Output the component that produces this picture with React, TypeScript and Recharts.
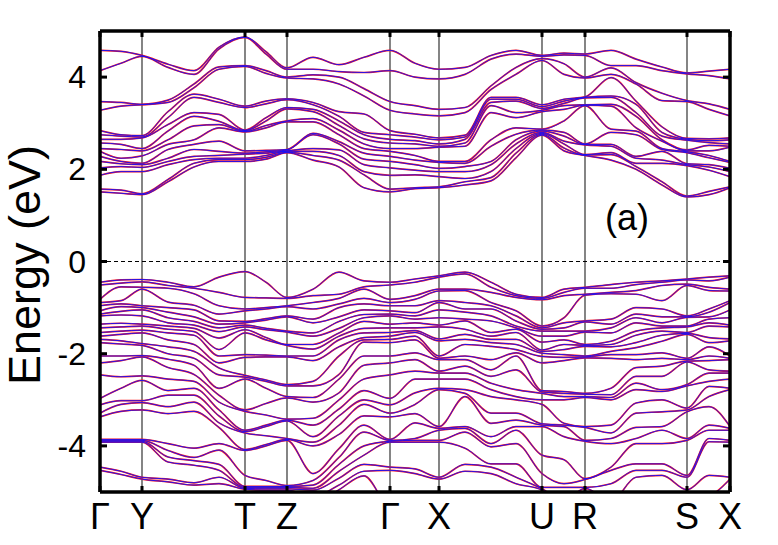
import { LineChart, Line, XAxis, YAxis, ReferenceLine, ReferenceDot } from 'recharts'

// distance along the k-path (plot px from the first Γ), sampled at the
// symmetry points plus a few points inside each segment
const kPath = [0, 21, 42, 68, 94, 119, 145, 166, 187, 213, 239, 264, 290, 315, 339, 365, 391, 416, 442, 464, 485, 511, 536, 562, 587, 609, 630]
const symPoints = [0, 42, 145, 187, 290, 339, 442, 485, 587, 630]
const symLabels = ['Γ', 'Y', 'T', 'Z', 'Γ', 'X', 'U', 'R', 'S', 'X']
const energyTicks = [-4, -2, 0, 2, 4]

// conduction band energies (eV) read at each k sample
const cbG = [1.51, 1.57, 1.87, 2.03, 2.17, 2.28, 2.39, 2.45, 2.57, 2.65, 2.75, 2.84, 3.28, 3.47, 4.14, 4.58]
const cbGY = [1.48, 1.55, 1.95, 2.06, 2.12, 2.17, 2.24, 2.43, 2.54, 2.65, 2.72, 2.75, 3.37, 3.45, 4.30, 4.56]
const cbY = [1.45, 1.47, 1.95, 2.04, 2.10, 2.13, 2.29, 2.40, 2.45, 2.68, 2.70, 2.73, 3.40, 3.41, 4.45, 4.47]
const cbYT1 = [1.73, 1.78, 2.10, 2.17, 2.24, 2.43, 2.54, 2.64, 2.83, 2.97, 3.12, 3.25, 3.45, 3.50, 4.21, 4.28]
const cbYT2 = [2.05, 2.13, 2.21, 2.28, 2.43, 2.54, 2.64, 2.94, 3.15, 3.23, 3.56, 3.63, 3.77, 3.85, 4.06, 4.14]
const cbYT3 = [2.17, 2.21, 2.24, 2.30, 2.39, 2.61, 2.90, 2.97, 3.04, 3.19, 3.45, 3.52, 4.17, 4.22, 4.61, 4.65]
const cbT = [2.17, 2.21, 2.24, 2.33, 2.35, 2.40, 2.81, 2.82, 2.84, 2.85, 3.34, 3.37, 4.23, 4.25, 4.86, 4.87]
const cbTZ = [2.22, 2.26, 2.30, 2.35, 2.38, 2.41, 2.90, 2.95, 3.05, 3.12, 3.42, 3.48, 4.08, 4.14, 4.50, 4.55]
const cbZ = [2.36, 2.37, 2.39, 2.40, 2.42, 2.43, 3.03, 3.05, 3.31, 3.34, 3.51, 3.53, 3.98, 4.00, 4.17, 4.20]
const cbZG1 = [2.20, 2.30, 2.39, 2.45, 2.75, 2.78, 3.03, 3.10, 3.25, 3.30, 3.40, 3.45, 3.96, 4.05, 4.17, 4.43]
const cbZG2 = [2.05, 2.20, 2.30, 2.42, 2.55, 2.60, 2.75, 2.85, 2.95, 3.05, 3.15, 3.25, 3.85, 4.00, 4.12, 4.27]
const cbZG3 = [1.60, 1.88, 1.95, 2.10, 2.22, 2.35, 2.45, 2.55, 2.66, 2.75, 2.80, 3.20, 3.59, 3.75, 4.10, 4.43]
const cbGX = [1.58, 1.60, 1.88, 1.98, 2.10, 2.20, 2.30, 2.45, 2.55, 2.62, 2.70, 2.76, 3.20, 3.38, 4.00, 4.30]
const cbX = [1.60, 1.62, 1.84, 1.95, 2.02, 2.15, 2.17, 2.48, 2.50, 2.55, 2.64, 2.68, 3.16, 3.30, 3.96, 4.17]
const cbXU1 = [1.66, 1.73, 1.80, 1.95, 2.06, 2.13, 2.17, 2.50, 2.57, 2.65, 2.70, 2.74, 3.23, 3.34, 4.06, 4.21]
const cbXU2 = [1.75, 1.82, 1.95, 2.10, 2.17, 2.50, 2.64, 3.23, 3.38, 3.45, 3.52, 3.56, 3.73, 3.81, 4.39, 4.47]
const cbXU3 = [2.25, 2.35, 2.45, 2.55, 2.64, 2.76, 2.90, 3.12, 3.23, 3.48, 3.52, 3.56, 4.06, 4.21, 4.50, 4.58]
const cbU = [2.74, 2.76, 2.78, 2.80, 2.83, 2.85, 2.87, 3.25, 3.28, 3.32, 3.36, 3.40, 4.36, 4.40, 4.45, 4.47]
const cbUR = [2.40, 2.46, 2.55, 2.61, 2.72, 2.80, 3.05, 3.30, 3.38, 3.43, 3.48, 3.52, 4.06, 4.29, 4.48, 4.52]
const cbR = [2.30, 2.31, 2.32, 2.53, 2.54, 2.55, 3.38, 3.39, 3.40, 3.55, 3.56, 3.57, 3.98, 4.00, 4.47, 4.50]
const cbRS1 = [2.20, 2.32, 2.36, 2.50, 2.54, 2.80, 2.87, 3.37, 3.41, 3.56, 3.59, 3.99, 4.06, 4.20, 4.25, 4.58]
const cbRS2 = [2.00, 2.06, 2.13, 2.24, 2.28, 2.75, 2.83, 2.90, 3.15, 3.23, 3.41, 3.48, 3.85, 3.88, 4.25, 4.39]
const cbRS3 = [1.66, 1.73, 2.13, 2.20, 2.39, 2.43, 2.45, 2.61, 2.64, 2.72, 2.80, 2.92, 3.49, 3.65, 4.14, 4.22]
const cbS = [1.40, 1.42, 2.08, 2.10, 2.12, 2.36, 2.38, 2.40, 2.42, 2.63, 2.65, 2.67, 3.47, 3.49, 4.07, 4.09]
const cbSX = [1.45, 1.52, 1.98, 2.05, 2.10, 2.25, 2.30, 2.40, 2.52, 2.58, 2.62, 2.66, 3.30, 3.42, 4.03, 4.13]

// valence band energies (eV) at the same k samples (values below -5 run off the frame)
const vbG = [-0.45, -0.51, -0.82, -0.89, -0.96, -1.07, -1.14, -1.18, -1.36, -1.44, -1.54, -1.62, -1.69, -1.76, -2.05, -2.20, -2.46, -2.97, -3.11, -3.29, -3.37, -3.86, -3.88, -3.90, -3.92, -4.46, -4.53, -5.3, -5.6, -5.9]
const vbGY = [-0.40, -0.47, -0.55, -0.85, -0.92, -0.98, -1.08, -1.16, -1.34, -1.42, -1.51, -1.58, -1.72, -1.79, -2.05, -2.15, -2.50, -2.75, -3.02, -3.10, -3.25, -3.86, -3.88, -3.90, -3.92, -4.55, -4.62, -5.3, -5.6, -5.9]
const vbY = [-0.39, -0.44, -0.56, -0.60, -0.96, -1.00, -1.05, -1.18, -1.36, -1.40, -1.49, -1.55, -1.78, -1.82, -2.04, -2.07, -2.48, -2.58, -3.02, -3.06, -3.22, -3.86, -3.88, -3.90, -3.92, -4.68, -4.72, -5.3, -5.6, -5.9]
const vbYT1 = [-0.45, -0.52, -0.58, -0.88, -1.00, -1.10, -1.22, -1.33, -1.40, -1.47, -1.55, -1.70, -1.85, -2.00, -2.12, -2.30, -2.55, -2.80, -2.90, -3.15, -3.30, -3.95, -4.10, -4.24, -4.35, -4.72, -4.78, -5.3, -5.6, -5.9]
const vbYT2 = [-0.55, -0.58, -0.70, -0.95, -1.05, -1.20, -1.30, -1.38, -1.45, -1.52, -1.60, -1.80, -1.95, -2.10, -2.25, -2.45, -2.60, -2.75, -2.90, -3.05, -3.25, -4.05, -4.25, -4.32, -4.42, -4.80, -4.85, -5.3, -5.6, -5.9]
const vbYT3 = [-0.34, -0.67, -0.96, -1.14, -1.29, -1.36, -1.44, -1.52, -1.66, -1.91, -2.05, -2.20, -2.31, -2.46, -2.75, -2.90, -3.05, -3.22, -3.35, -3.50, -3.60, -3.95, -4.09, -4.40, -4.53, -4.68, -4.82, -5.3, -5.6, -5.9]
const vbT = [-0.22, -0.78, -1.03, -1.07, -1.30, -1.33, -1.38, -1.42, -1.48, -1.55, -2.02, -2.08, -2.47, -2.51, -2.55, -3.22, -3.25, -3.66, -3.69, -3.72, -4.08, -4.10, -4.64, -4.88, -4.90, -4.92, -4.94, -5.3, -5.6, -5.9]
const vbTZ = [-0.45, -0.79, -1.00, -1.03, -1.24, -1.27, -1.45, -1.48, -1.65, -1.70, -2.03, -2.07, -2.57, -2.60, -2.75, -3.08, -3.33, -3.55, -3.58, -3.78, -3.97, -4.00, -4.75, -4.88, -4.90, -4.93, -4.96, -5.3, -5.6, -5.9]
const vbZ = [-0.78, -0.80, -0.96, -0.98, -1.18, -1.20, -1.51, -1.53, -1.80, -1.82, -2.05, -2.07, -2.67, -2.70, -2.93, -2.96, -3.42, -3.44, -3.46, -3.84, -3.86, -3.88, -4.86, -4.88, -4.90, -4.93, -4.96, -5.3, -5.6, -5.9]
const vbZG1 = [-0.60, -0.74, -0.89, -1.03, -1.25, -1.33, -1.55, -1.62, -1.80, -1.90, -2.05, -2.15, -2.60, -2.70, -2.95, -3.05, -3.40, -3.55, -3.80, -3.92, -4.00, -4.60, -4.75, -4.85, -4.92, -4.96, -5.1, -5.3, -5.6, -5.9]
const vbZG2 = [-0.23, -0.71, -0.80, -0.92, -1.00, -1.20, -1.30, -1.45, -1.55, -1.62, -1.70, -1.85, -2.05, -2.45, -2.55, -2.85, -3.00, -3.20, -3.35, -3.55, -3.75, -4.06, -4.25, -4.40, -4.55, -4.70, -4.85, -4.95, -5.1, -5.3]
const vbZG3 = [-0.42, -0.55, -0.60, -0.80, -0.92, -1.05, -1.15, -1.22, -1.30, -1.45, -1.55, -1.65, -1.70, -1.75, -2.05, -2.25, -2.55, -2.80, -3.00, -3.10, -3.35, -3.55, -3.70, -4.00, -4.20, -4.40, -4.55, -4.65, -5.1, -5.3]
const vbGX = [-0.38, -0.45, -0.74, -0.82, -0.96, -1.11, -1.18, -1.25, -1.33, -1.44, -1.50, -1.54, -1.62, -1.70, -1.98, -2.13, -2.38, -2.55, -2.85, -3.10, -3.30, -3.50, -3.84, -3.88, -3.92, -4.50, -4.60, -5.3, -5.6, -5.9]
const vbX = [-0.31, -0.34, -0.60, -0.64, -0.85, -0.89, -1.05, -1.22, -1.38, -1.42, -1.68, -1.72, -2.05, -2.10, -2.13, -2.38, -2.42, -2.55, -2.75, -2.78, -3.58, -3.62, -3.66, -3.88, -3.92, -4.68, -4.72, -5.3, -5.6, -5.9]
const vbXU1 = [-0.23, -0.27, -0.60, -0.63, -0.89, -1.03, -1.10, -1.25, -1.29, -1.47, -1.58, -1.69, -1.80, -2.05, -2.13, -2.27, -2.42, -2.55, -2.78, -2.86, -2.93, -3.58, -3.62, -3.70, -4.05, -4.40, -4.55, -5.3, -5.6, -5.9]
const vbXU2 = [-0.45, -0.56, -0.67, -0.89, -0.96, -1.03, -1.18, -1.29, -1.54, -1.62, -1.69, -1.76, -1.84, -2.13, -2.35, -2.49, -2.64, -2.78, -2.93, -3.29, -3.51, -3.80, -3.95, -4.02, -4.39, -4.46, -4.60, -5.3, -5.6, -5.9]
const vbXU3 = [-0.71, -0.74, -0.78, -1.07, -1.18, -1.29, -1.40, -1.44, -1.47, -1.54, -1.69, -1.80, -1.91, -1.98, -2.05, -2.35, -2.78, -2.93, -3.00, -3.29, -3.44, -3.58, -3.66, -3.95, -4.39, -4.68, -4.82, -5.3, -5.6, -5.9]
const vbU = [-0.78, -0.80, -0.83, -1.40, -1.44, -1.47, -1.51, -1.62, -1.75, -1.92, -1.95, -1.99, -2.06, -2.20, -2.80, -2.83, -2.86, -3.00, -3.10, -3.52, -3.55, -3.58, -4.20, -4.60, -4.90, -4.93, -4.96, -5.3, -5.6, -5.9]
const vbUR = [-0.60, -0.67, -0.74, -1.22, -1.33, -1.44, -1.51, -1.62, -1.70, -1.80, -1.91, -2.02, -2.08, -2.15, -2.82, -2.86, -2.93, -3.00, -3.51, -3.55, -3.58, -3.80, -4.30, -4.82, -4.90, -5.2, -5.4, -5.6, -5.9, -6.2]
const vbR = [-0.56, -0.58, -0.71, -0.73, -1.29, -1.31, -1.51, -1.53, -1.80, -1.82, -1.84, -2.05, -2.07, -2.09, -2.86, -2.88, -2.93, -2.95, -3.58, -3.60, -3.88, -3.90, -4.71, -4.73, -4.90, -4.92, -5.3, -5.6, -5.9, -6.2]
const vbRS1 = [-0.50, -0.58, -0.67, -0.70, -1.25, -1.36, -1.44, -1.55, -1.73, -1.80, -1.85, -1.95, -2.02, -2.10, -2.75, -2.89, -2.95, -3.00, -3.55, -3.72, -3.84, -3.95, -4.46, -4.53, -4.82, -5.2, -5.4, -5.6, -5.8, -6.0]
const vbRS2 = [-0.45, -0.50, -0.63, -0.71, -1.00, -1.14, -1.22, -1.33, -1.51, -1.60, -1.76, -1.87, -2.02, -2.13, -2.30, -2.49, -2.64, -2.78, -3.07, -3.29, -3.60, -3.84, -3.95, -4.39, -4.53, -4.68, -5.2, -5.4, -5.6, -5.8]
const vbRS3 = [-0.42, -0.45, -0.52, -0.85, -1.03, -1.20, -1.33, -1.40, -1.44, -1.51, -1.60, -1.73, -1.98, -2.10, -2.27, -2.49, -2.78, -2.82, -3.00, -3.26, -3.58, -3.66, -3.95, -4.39, -4.53, -4.64, -5.3, -5.5, -5.7, -5.9]
const vbS = [-0.38, -0.40, -0.49, -0.52, -1.18, -1.20, -1.21, -1.40, -1.42, -1.54, -1.56, -1.58, -2.10, -2.13, -2.16, -2.18, -2.67, -2.70, -3.18, -3.22, -3.26, -3.84, -3.88, -4.64, -4.68, -4.95, -5.2, -5.4, -5.6, -5.8]
const vbSX = [-0.34, -0.42, -0.56, -0.63, -1.03, -1.10, -1.20, -1.25, -1.33, -1.40, -1.65, -1.76, -1.85, -2.05, -2.15, -2.35, -2.42, -2.60, -2.71, -2.93, -3.15, -3.55, -3.66, -3.84, -3.91, -4.64, -5.1, -5.3, -5.5, -5.7]

const cbColumns = [cbG, cbGY, cbY, cbYT1, cbYT2, cbYT3, cbT, cbTZ, cbZ, cbZG1, cbZG2, cbZG3, cbG, cbGX, cbX, cbXU1, cbXU2, cbXU3, cbU, cbUR, cbR, cbRS1, cbRS2, cbRS3, cbS, cbSX, cbX]
const vbColumns = [vbG, vbGY, vbY, vbYT1, vbYT2, vbYT3, vbT, vbTZ, vbZ, vbZG1, vbZG2, vbZG3, vbG, vbGX, vbX, vbXU1, vbXU2, vbXU3, vbU, vbUR, vbR, vbRS1, vbRS2, vbRS3, vbS, vbSX, vbX]

// band i = i-th eigenvalue at each k (counted from the gap outwards)
const bandData = kPath.map((k, j) => {
    const row: Record<string, number> = { k }
    ;[...cbColumns[j]].sort((a, b) => a - b).forEach((e, i) => { row[`c${i}`] = e })
    ;[...vbColumns[j]].sort((a, b) => b - a).forEach((e, i) => { row[`v${i}`] = e })
    return row
})
const bandKeys = [
    ...cbG.map((_, i) => `c${i}`),
    ...vbG.map((_, i) => `v${i}`),
]

const FONT = '"Liberation Sans", Arial, Helvetica, sans-serif'

function EnergyTick({ x, y, payload }: any) {
    return (
        <g>
            <rect x={x} y={y - 1.5} width={7} height={3} fill="#000" />
            <text x={x - 14} y={y} textAnchor="end" dominantBaseline="central" fontSize={32} fill="#000" fontFamily={FONT}>
                {payload.value}
            </text>
        </g>
    )
}

function RightTick({ x, y }: any) {
    return <rect x={x - 7} y={y - 1.5} width={7} height={3} fill="#000" />
}

function PathTick({ x, y, index }: any) {
    return (
        <g>
            <rect x={x - 1.5} y={y - 6} width={3} height={6} fill="#000" />
            <text x={x} y={y + 37} textAnchor="middle" fontSize={36} fill="#000" fontFamily={FONT}>
                {symLabels[index]}
            </text>
        </g>
    )
}

function TopTick({ x, y }: any) {
    return <rect x={x - 1.5} y={y} width={3} height={6} fill="#000" />
}

// axis title, centred on the frame (y 31..492)
function EnergyLabel() {
    const cx = 24
    const cy = 265
    return (
        <text x={cx} y={cy} transform={`rotate(-90 ${cx} ${cy})`} textAnchor="middle" dominantBaseline="central" fontSize={45} fill="#000" fontFamily={FONT}>
            Energy (eV)
        </text>
    )
}

export default function App() {
    return (
        <div style={{ position: 'absolute', left: 0, top: 0, width: 778, height: 545, background: '#fff' }}>
            <LineChart width={778} height={545} data={bandData} margin={{ top: 0, right: 0, bottom: 0, left: 0 }} style={{ fontFamily: FONT }}>
                <XAxis dataKey="k" type="number" domain={[0, 630]} ticks={symPoints} interval={0} height={53}
                    tickSize={0} tickMargin={0} axisLine={false} tickLine={false} tick={<PathTick />} allowDataOverflow />
                <XAxis xAxisId="top" orientation="top" dataKey="k" type="number" domain={[0, 630]} ticks={symPoints} interval={0} height={31}
                    tickSize={0} tickMargin={0} axisLine={false} tickLine={false} tick={<TopTick />} allowDataOverflow />
                <YAxis type="number" domain={[-5, 5]} ticks={energyTicks} interval={0} width={100}
                    tickSize={0} tickMargin={0} axisLine={false} tickLine={false} tick={<EnergyTick />} allowDataOverflow
                    label={<EnergyLabel />} />
                <YAxis yAxisId="right" orientation="right" type="number" domain={[-5, 5]} ticks={energyTicks} interval={0} width={48}
                    tickSize={0} tickMargin={0} axisLine={false} tickLine={false} tick={<RightTick />} allowDataOverflow />

                {symPoints.slice(1, -1).map((k) => (
                    <ReferenceLine key={`sym${k}`} x={k} stroke="#333" strokeWidth={1.2} />
                ))}
                <ReferenceLine y={0} stroke="#000" strokeWidth={1} strokeDasharray="4 3" />

                {/* hidden series that ties the top / right axes to the data */}
                <Line xAxisId="top" yAxisId="right" dataKey="c0" stroke="none" dot={false} activeDot={false} isAnimationActive={false} />

                {bandKeys.map((key) => (
                    <Line key={`r${key}`} type="monotone" dataKey={key} stroke="#ff1a1a" strokeWidth={1.7}
                        dot={false} activeDot={false} isAnimationActive={false} />
                ))}
                {bandKeys.map((key) => (
                    <Line key={`b${key}`} type="monotone" dataKey={key} stroke="#1010ff" strokeWidth={1} strokeOpacity={0.9}
                        dot={false} activeDot={false} isAnimationActive={false} />
                ))}

                <ReferenceLine x={0} stroke="#000" strokeWidth={3.5} />
                <ReferenceLine x={630} stroke="#000" strokeWidth={3.5} />
                <ReferenceLine y={5} stroke="#000" strokeWidth={3.5} />
                <ReferenceLine y={-5} stroke="#000" strokeWidth={3.5} />

                <ReferenceDot x={527} y={0.96} r={1} fill="none" stroke="none"
                    label={{ value: '(a)', position: 'center', fontSize: 36, fill: '#000', fontFamily: FONT }} />
            </LineChart>
        </div>
    )
}
